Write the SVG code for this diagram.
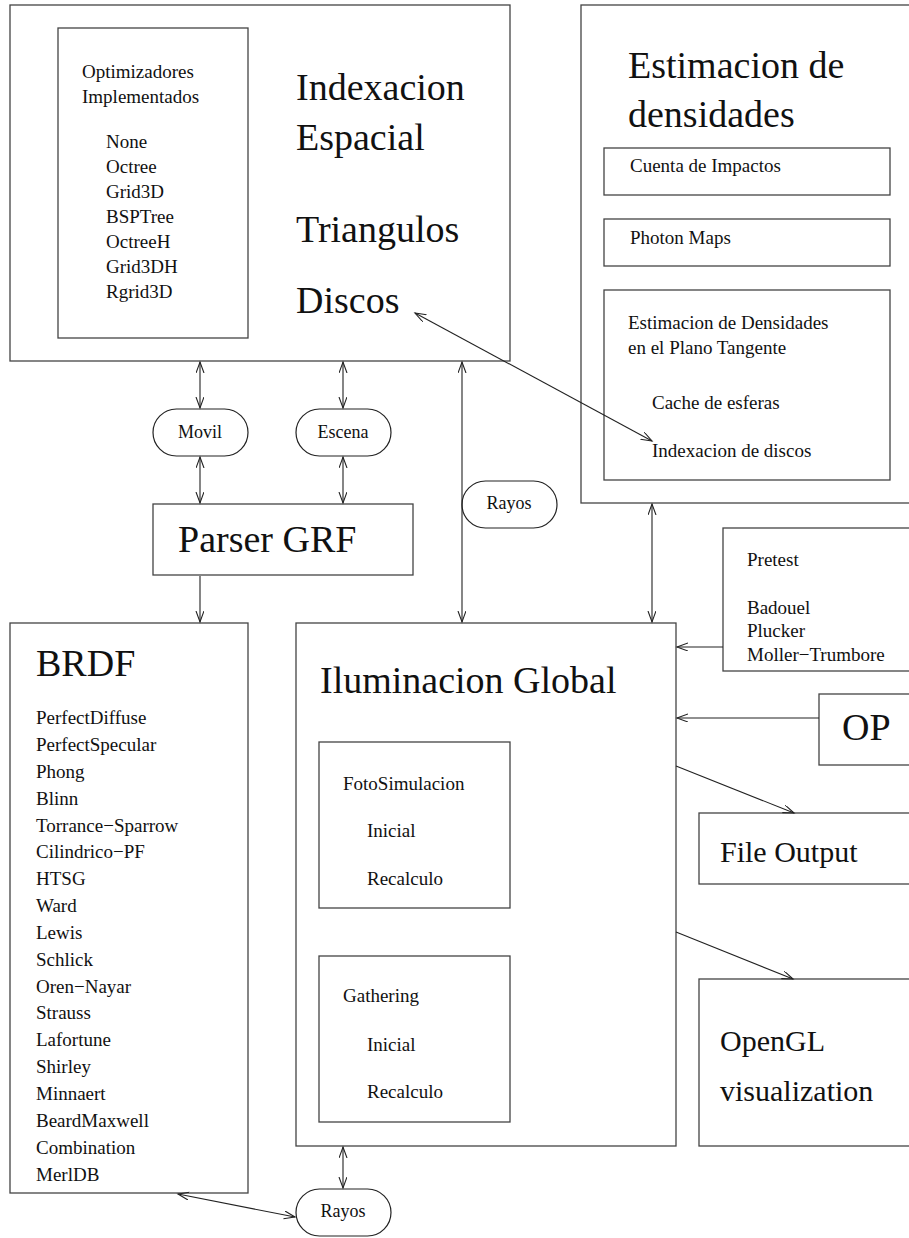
<svg xmlns="http://www.w3.org/2000/svg" width="909" height="1238" viewBox="0 0 909 1238">
  <style>
    .box { fill: none; stroke: #444; stroke-width: 1.3; }
    .pill { fill: #fff; stroke: #222; stroke-width: 1.2; }
    .ln { fill: none; stroke: #222; stroke-width: 1.1; }
    text { font-family: "Liberation Serif", "Times New Roman", serif; fill: #111; }
    .sm { font-size: 19px; }
    .pl { font-size: 18px; text-anchor: middle; }
    .lg { font-size: 38px; }
    .md { font-size: 30px; }
  </style>
  <defs>
    <marker id="ah" markerUnits="userSpaceOnUse" markerWidth="14" markerHeight="10" refX="11" refY="4" orient="auto-start-reverse">
      <path d="M0,0 L11,4 L0,8" fill="none" stroke="#222" stroke-width="1.1"/>
    </marker>
  </defs>

  <rect width="909" height="1238" fill="#fff"/>

  <!-- spatial indexing -->
  <g id="indexacion">
    <rect class="box" x="10" y="5" width="500" height="356"/>
    <rect class="box" x="58" y="28" width="190" height="310"/>
    <text class="sm" x="82" y="78">Optimizadores</text>
    <text class="sm" x="82" y="103">Implementados</text>
    <text class="sm" x="106" y="148">None</text>
    <text class="sm" x="106" y="173">Octree</text>
    <text class="sm" x="106" y="198">Grid3D</text>
    <text class="sm" x="106" y="223">BSPTree</text>
    <text class="sm" x="106" y="248">OctreeH</text>
    <text class="sm" x="106" y="273">Grid3DH</text>
    <text class="sm" x="106" y="298">Rgrid3D</text>
    <text class="lg" x="296" y="100">Indexacion</text>
    <text class="lg" x="296" y="150">Espacial</text>
    <text class="lg" x="296" y="242">Triangulos</text>
    <text class="lg" x="296" y="313">Discos</text>
  </g>

  <!-- density estimation -->
  <g id="densidades">
    <rect class="box" x="581" y="5" width="340" height="498"/>
    <text class="lg" x="628" y="78">Estimacion de</text>
    <text class="lg" x="628" y="127">densidades</text>
    <rect class="box" x="604" y="148" width="286" height="47"/>
    <text class="sm" x="630" y="172">Cuenta de Impactos</text>
    <rect class="box" x="604" y="219" width="286" height="47"/>
    <text class="sm" x="630" y="244">Photon Maps</text>
    <rect class="box" x="604" y="290" width="286" height="190"/>
    <text class="sm" x="628" y="329">Estimacion de Densidades</text>
    <text class="sm" x="628" y="354">en el Plano Tangente</text>
    <text class="sm" x="652" y="409">Cache de esferas</text>
    <text class="sm" x="652" y="457">Indexacion de discos</text>
  </g>

  <g id="movil">
    <rect class="pill" x="153" y="409" width="95" height="47" rx="23.5"/>
    <text class="pl" x="200" y="438">Movil</text>
  </g>
  <g id="escena">
    <rect class="pill" x="296" y="409" width="95" height="47" rx="23.5"/>
    <text class="pl" x="343" y="438">Escena</text>
  </g>
  <g id="rayos-mid">
    <rect class="pill" x="462" y="481" width="95" height="47" rx="23.5"/>
    <text class="pl" x="509" y="509">Rayos</text>
  </g>

  <g id="parser">
    <rect class="box" x="153" y="504" width="260" height="71"/>
    <text class="lg" x="178" y="552">Parser GRF</text>
  </g>

  <g id="pretest">
    <rect class="box" x="723" y="528" width="200" height="143"/>
    <text class="sm" x="747" y="566">Pretest</text>
    <text class="sm" x="747" y="614">Badouel</text>
    <text class="sm" x="747" y="637">Plucker</text>
    <text class="sm" x="747" y="661">Moller−Trumbore</text>
  </g>

  <g id="op">
    <rect class="box" x="819" y="694" width="100" height="71"/>
    <text class="lg" x="842" y="740">OP</text>
  </g>

  <g id="file-output">
    <rect class="box" x="699" y="813" width="220" height="71"/>
    <text class="md" x="720" y="862">File Output</text>
  </g>

  <g id="opengl">
    <rect class="box" x="699" y="979" width="220" height="167"/>
    <text class="md" x="720" y="1051">OpenGL</text>
    <text class="md" x="720" y="1101">visualization</text>
  </g>

  <!-- BRDF models -->
  <g id="brdf">
    <rect class="box" x="10" y="623" width="238" height="570"/>
    <text class="lg" x="36" y="676">BRDF</text>
    <text class="sm" x="36" y="724">PerfectDiffuse</text>
    <text class="sm" x="36" y="751">PerfectSpecular</text>
    <text class="sm" x="36" y="778">Phong</text>
    <text class="sm" x="36" y="805">Blinn</text>
    <text class="sm" x="36" y="832">Torrance−Sparrow</text>
    <text class="sm" x="36" y="858">Cilindrico−PF</text>
    <text class="sm" x="36" y="885">HTSG</text>
    <text class="sm" x="36" y="912">Ward</text>
    <text class="sm" x="36" y="939">Lewis</text>
    <text class="sm" x="36" y="966">Schlick</text>
    <text class="sm" x="36" y="993">Oren−Nayar</text>
    <text class="sm" x="36" y="1019">Strauss</text>
    <text class="sm" x="36" y="1046">Lafortune</text>
    <text class="sm" x="36" y="1073">Shirley</text>
    <text class="sm" x="36" y="1100">Minnaert</text>
    <text class="sm" x="36" y="1127">BeardMaxwell</text>
    <text class="sm" x="36" y="1154">Combination</text>
    <text class="sm" x="36" y="1181">MerlDB</text>
  </g>

  <!-- global illumination -->
  <g id="iluminacion">
    <rect class="box" x="296" y="623" width="380" height="523"/>
    <text class="lg" x="320" y="693">Iluminacion Global</text>
    <rect class="box" x="319" y="742" width="191" height="166"/>
    <text class="sm" x="343" y="790">FotoSimulacion</text>
    <text class="sm" x="367" y="837">Inicial</text>
    <text class="sm" x="367" y="885">Recalculo</text>
    <rect class="box" x="319" y="956" width="191" height="166"/>
    <text class="sm" x="343" y="1002">Gathering</text>
    <text class="sm" x="367" y="1051">Inicial</text>
    <text class="sm" x="367" y="1098">Recalculo</text>
  </g>

  <g id="rayos-bottom">
    <rect class="pill" x="296" y="1189" width="95" height="47" rx="23.5"/>
    <text class="pl" x="343" y="1217">Rayos</text>
  </g>

  <g id="connectors">
    <line class="ln" x1="200" y1="362" x2="200" y2="408" marker-start="url(#ah)" marker-end="url(#ah)"/>
    <line class="ln" x1="343" y1="362" x2="343" y2="408" marker-start="url(#ah)" marker-end="url(#ah)"/>
    <line class="ln" x1="200" y1="457" x2="200" y2="503" marker-start="url(#ah)" marker-end="url(#ah)"/>
    <line class="ln" x1="343" y1="457" x2="343" y2="503" marker-start="url(#ah)" marker-end="url(#ah)"/>
    <line class="ln" x1="200" y1="576" x2="200" y2="622" marker-end="url(#ah)"/>
    <line class="ln" x1="462" y1="362" x2="462" y2="622" marker-start="url(#ah)" marker-end="url(#ah)"/>
    <line class="ln" x1="652" y1="504" x2="652" y2="622" marker-start="url(#ah)" marker-end="url(#ah)"/>
    <line class="ln" x1="415" y1="313" x2="652" y2="441" marker-start="url(#ah)" marker-end="url(#ah)"/>
    <line class="ln" x1="723" y1="647" x2="677" y2="647" marker-end="url(#ah)"/>
    <line class="ln" x1="819" y1="718" x2="677" y2="718" marker-end="url(#ah)"/>
    <line class="ln" x1="676" y1="766" x2="794" y2="813" marker-end="url(#ah)"/>
    <line class="ln" x1="676" y1="932" x2="793" y2="979" marker-end="url(#ah)"/>
    <line class="ln" x1="343" y1="1147" x2="343" y2="1188" marker-start="url(#ah)" marker-end="url(#ah)"/>
    <line class="ln" x1="178" y1="1194" x2="295" y2="1217" marker-start="url(#ah)" marker-end="url(#ah)"/>
  </g>
</svg>
